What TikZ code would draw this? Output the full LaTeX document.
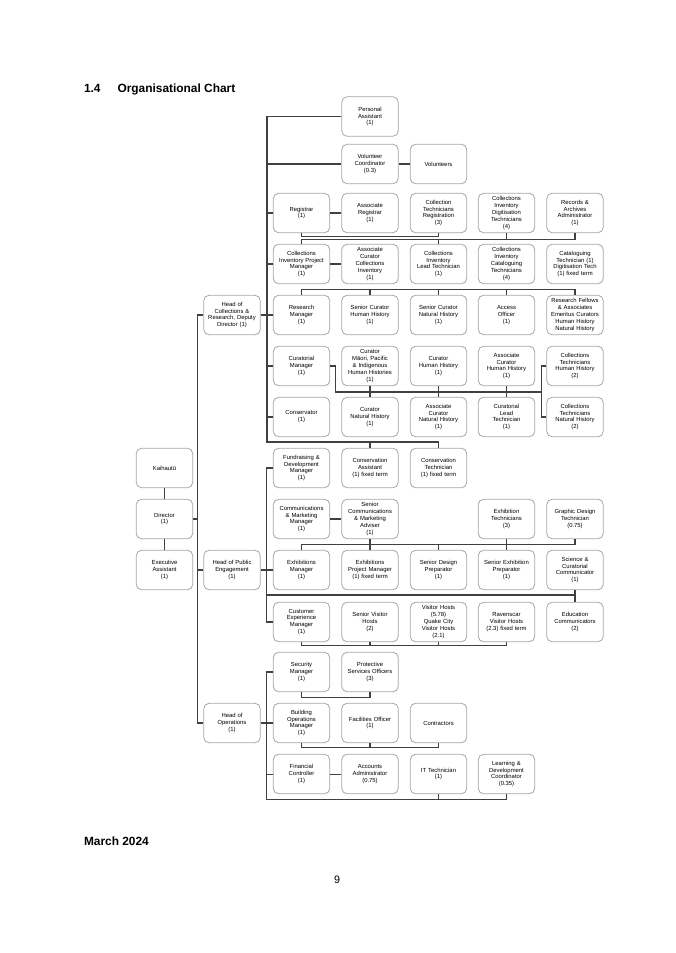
\documentclass[tikz,border=0pt]{standalone}
\usepackage{fontspec}
\setmainfont{Liberation Sans}
\usepackage{tikz}

\begin{document}
\begin{tikzpicture}[x=0.882pt,y=-0.882pt,
    box/.style={draw=gray!70,line width=0.7pt,rounded corners=5pt,fill=white,
        minimum width=50pt,minimum height=35pt,text width=49pt,align=center,
        inner sep=0.5pt,font=\fontsize{5.2}{6.1}\selectfont},
    link/.style={draw=black!75,line width=0.9pt}]
    \useasboundingbox (0,0) rectangle (675,953);

    % Page texts
    \node[anchor=west,font=\fontsize{10.5}{12}\selectfont\bfseries] (title) at (80,89) {1.4\hspace{15pt}Organisational Chart};
    \node[anchor=west,font=\fontsize{10.5}{12}\selectfont\bfseries] (date) at (80,841) {March 2024};
    \node[font=\fontsize{9.5}{11}\selectfont] (pagenum) at (337,880) {9};

    % Director column
    \node[box] (kai) at (164.5,468) {Kaihautū};
    \node[box] (dir) at (164.5,519) {Director\\(1)};
    \node[box] (ea) at (164.5,570) {Executive\\Assistant\\(1)};

    % Heads
    \node[box] (hcol) at (232,315) {Head of\\Collections \&\\Research, Deputy\\Director (1)};
    \node[box] (hpe) at (232,570) {Head of Public\\Engagement\\(1)};
    \node[box] (hops) at (232,723) {Head of\\Operations\\(1)};

    % Collections & Research
    \node[box] (pa) at (370,116.5) {Personal\\Assistant\\(1)};
    \node[box] (volc) at (370,164) {Volunteer\\Coordinator\\(0.3)};
    \node[box] (vol) at (438.5,164) {Volunteers};
    \node[box] (reg) at (301.5,213) {Registrar\\(1)};
    \node[box] (areg) at (370,213) {Associate\\Registrar\\(1)};
    \node[box] (ctreg) at (438.5,213) {Collection\\Technicians\\Registration\\(3)};
    \node[box] (cidt) at (506.5,213) {Collections\\Inventory\\Digitisation\\Technicians\\(4)};
    \node[box] (rec) at (575,213) {Records \&\\Archives\\Administrator\\(1)};
    \node[box] (cipm) at (301.5,264) {Collections\\Inventory Project\\Manager\\(1)};
    \node[box] (acci) at (370,264) {Associate\\Curator\\Collections\\Inventory\\(1)};
    \node[box] (cilt) at (438.5,264) {Collections\\Inventory\\Lead Technician\\(1)};
    \node[box] (cict) at (506.5,264) {Collections\\Inventory\\Cataloguing\\Technicians\\(4)};
    \node[box] (catt) at (575,264) {Cataloguing\\Technician (1)\\Digitisation Tech\\(1) fixed term};
    \node[box] (resm) at (301.5,315) {Research\\Manager\\(1)};
    \node[box] (schh) at (370,315) {Senior Curator\\Human History\\(1)};
    \node[box] (scnh) at (438.5,315) {Senior Curator\\Natural History\\(1)};
    \node[box] (acc) at (506.5,315) {Access\\Officer\\(1)};
    \node[box] (rfel) at (575,315) {Research Fellows\\\& Associates\\Emeritus Curators\\Human History\\Natural History};
    \node[box] (curm) at (301.5,366) {Curatorial\\Manager\\(1)};
    \node[box] (cmp) at (370,366) {Curator\\Māori, Pacific\\\& Indigenous\\Human Histories\\(1)};
    \node[box] (chh) at (438.5,366) {Curator\\Human History\\(1)};
    \node[box] (achh) at (506.5,366) {Associate\\Curator\\Human History\\(1)};
    \node[box] (cthh) at (575,366) {Collections\\Technicians\\Human History\\(2)};
    \node[box] (cons) at (301.5,417) {Conservator\\(1)};
    \node[box] (cnh) at (370,417) {Curator\\Natural History\\(1)};
    \node[box] (acnh) at (438.5,417) {Associate\\Curator\\Natural History\\(1)};
    \node[box] (clt) at (506.5,417) {Curatorial\\Lead\\Technician\\(1)};
    \node[box] (ctnh) at (575,417) {Collections\\Technicians\\Natural History\\(2)};

    % Public Engagement
    \node[box] (frd) at (301.5,468) {Fundraising \&\\Development\\Manager\\(1)};
    \node[box] (casst) at (370,468) {Conservation\\Assistant\\(1) fixed term};
    \node[box] (ctech) at (438.5,468) {Conservation\\Technician\\(1) fixed term};
    \node[box] (cmm) at (301.5,519) {Communications\\\& Marketing\\Manager\\(1)};
    \node[box] (scma) at (370,519) {Senior\\Communications\\\& Marketing\\Adviser\\(1)};
    \node[box] (exht) at (506.5,519) {Exhibition\\Technicians\\(3)};
    \node[box] (gdt) at (575,519) {Graphic Design\\Technician\\(0.75)};
    \node[box] (exm) at (301.5,570) {Exhibitions\\Manager\\(1)};
    \node[box] (epm) at (370,570) {Exhibitions\\Project Manager\\(1) fixed term};
    \node[box] (sdp) at (438.5,570) {Senior Design\\Preparator\\(1)};
    \node[box] (sep) at (506.5,570) {Senior Exhibition\\Preparator\\(1)};
    \node[box] (scc) at (575,570) {Science \&\\Curatorial\\Communicator\\(1)};
    \node[box] (cem) at (301.5,622) {Customer\\Experience\\Manager\\(1)};
    \node[box] (svh) at (370,622) {Senior Visitor\\Hosts\\(2)};
    \node[box] (vh) at (438.5,622) {Visitor Hosts\\(5.78)\\Quake City\\Visitor Hosts\\(2.1)};
    \node[box] (rvh) at (506.5,622) {Ravenscar\\Visitor Hosts\\(2.3) fixed term};
    \node[box] (edu) at (575,622) {Education\\Communicators\\(2)};

    % Operations
    \node[box] (secm) at (301.5,672) {Security\\Manager\\(1)};
    \node[box] (pso) at (370,672) {Protective\\Services Officers\\(3)};
    \node[box] (bom) at (301.5,723) {Building\\Operations\\Manager\\(1)};
    \node[box] (fac) at (370,723) {Facilities Officer\\(1)};
    \node[box] (contr) at (438.5,723) {Contractors};
    \node[box] (fin) at (301.5,774) {Financial\\Controller\\(1)};
    \node[box] (acct) at (370,774) {Accounts\\Administrator\\(0.75)};
    \node[box] (itt) at (438.5,774) {IT Technician\\(1)};
    \node[box] (ldc) at (506.5,774) {Learning \&\\Development\\Coordinator\\(0.35)};

    % Director links
    \draw[link] (kai.south) -- (dir.north) (dir.south) -- (ea.north);
    \draw[link] (dir.east) -- ++(5,0);
    \draw[link] (hcol.west) -- ++(-6,0) |- (hops.west);
    \draw[link] (hpe.west) -- ++(-6,0);

    % Collections links
    \draw[link] (pa.west) -| (267,442) -| (ctech.north);
    \draw[link] (casst.north) -- ++(0,-6);
    \foreach \n in {volc,reg,cipm,resm,curm,cons}
        \draw[link] (\n.west) -- (\n.west -| 267,0);
    \draw[link] (hcol.east) -- (hcol.east -| 267,0);
    \draw[link] (volc.east) -- (vol.west);
    \draw[link] (reg.east) -- (areg.west);
    \draw[link] (cipm.east) -- (acci.west);
    \draw[link] (reg.south) -- ++(0,3) -| (ctreg.south);
    \draw[link] (cipm.north) -- ++(0,-4) -| (rec.south);
    \draw[link] (cidt.south) -- ++(0,7);
    \draw[link] (cilt.north) -- ++(0,-4);
    \draw[link] (resm.north) -- ++(0,-5) -| (rfel.north);
    \foreach \n in {schh,scnh,acc}
        \draw[link] (\n.north) -- ++(0,-5);
    \draw[link] (curm.east) -- ++(5,0) |- (542,392);
    \draw[link] (cthh.west) -- ++(-5,0) |- (ctnh.west);
    \foreach \n in {cmp,chh,achh}
        \draw[link] (\n.south) -- ++(0,6);
    \foreach \n in {cnh,acnh,clt}
        \draw[link] (\n.north) -- ++(0,-5);

    % Public Engagement links
    \draw[link] (frd.west) -- ++(-6,0) |- (cem.west);
    \draw[link] (hpe.east) -- (hpe.east -| 267,0);
    \draw[link] (exm.west) -- ++(-6,0);
    \draw[link] (cmm.east) -- (scma.west);
    \draw[link] (exm.north) -- ++(-0,-5) -| (gdt.south);
    \draw[link] (scma.south) -- (epm.north);
    \draw[link] (exht.south) -- (sep.north);
    \draw[link] (sdp.north) -- ++(0,-5);
    \draw[link] (267,595) -| (edu.north);
    \draw[link] (scc.south) -- ++(0,5);
    \draw[link] (cem.south) -- ++(0,3) -| (rvh.south);
    \foreach \n in {svh,vh}
        \draw[link] (\n.south) -- ++(0,3);

    % Operations links
    \draw[link] (secm.west) -- ++(-6,0) |- (506.5,799) -- (ldc.south);
    \draw[link] (itt.south) -- ++(0,5);
    \draw[link] (hops.east) -- (hops.east -| 267,0);
    \draw[link] (bom.west) -- ++(-6,0);
    \draw[link] (fin.west) -- ++(-6,0);
    \draw[link] (fin.east) -- (acct.west);
    \draw[link] (secm.south) -- ++(0,5) -| (pso.south);
    \draw[link] (bom.south) -- ++(0,4) -| (contr.south);
    \draw[link] (fac.south) -- ++(0,4);

\end{tikzpicture}
\end{document}
